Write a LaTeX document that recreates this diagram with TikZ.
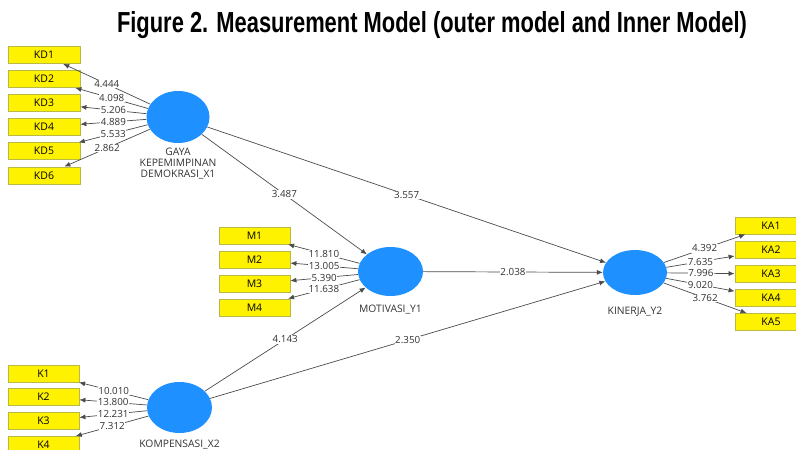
\documentclass[tikz,border=0pt]{standalone}
\usepackage{fontspec}
\setmainfont{Open Sans}
\newfontfamily\titlefont{Liberation Sans}
\usetikzlibrary{arrows.meta,shapes.geometric}
\definecolor{latblue}{RGB}{30,144,255}
\definecolor{boxedge}{RGB}{185,185,70}
\definecolor{linegray}{RGB}{75,75,75}
\definecolor{txt}{RGB}{50,50,50}
\begin{document}
\begin{tikzpicture}[x=1pt,y=-1pt,
  lat/.style={ellipse, fill=latblue, minimum width=65pt, minimum height=49pt, inner sep=0pt},
  ind/.style={rectangle, draw=boxedge, line width=0.8pt, fill=yellow, minimum width=72pt, minimum height=17pt, inner sep=0pt, font=\fontsize{10.5}{11}\selectfont},
  latname/.style={font=\fontsize{10.3}{11}\selectfont, text=txt, align=center, inner sep=0pt},
  conn/.style={draw=linegray, line width=0.7pt, -{Latex[length=6pt,width=5pt]}},
  val/.style={fill=white, inner sep=0.6pt, text=txt, font=\fontsize{9.8}{10}\selectfont, midway}
]
\useasboundingbox (0,0) rectangle (796,450);
\clip (0,0) rectangle (796,450);

\node[anchor=base, inner sep=0pt] (title) at (432,32) {\resizebox{630pt}{21pt}{\titlefont\bfseries Figure 2. Measurement Model (outer model and Inner Model)}};

% latent variables
\node[lat, minimum width=63pt, minimum height=52pt] (X1) at (178,117) {};
\node[lat] (Y1) at (390.5,271.5) {};
\node[lat, minimum width=64pt, minimum height=45pt] (Y2) at (635,272.5) {};
\node[lat, minimum height=51pt] (X2) at (179.5,407.5) {};

\node[latname, anchor=north] (nX1) at (178,148) {GAYA\\KEPEMIMPINAN\\DEMOKRASI\_X1};
\node[latname, anchor=north] (nY1) at (390.5,305) {MOTIVASI\_Y1};
\node[latname, anchor=north] (nY2) at (635,307) {KINERJA\_Y2};
\node[latname, anchor=north] (nX2) at (179.5,439.5) {KOMPENSASI\_X2};

% indicators
\node[ind] (KD1) at (44,55) {KD1};
\node[ind] (KD2) at (44,79) {KD2};
\node[ind] (KD3) at (44,103) {KD3};
\node[ind] (KD4) at (44,127) {KD4};
\node[ind] (KD5) at (44,151.3) {KD5};
\node[ind] (KD6) at (44,175.5) {KD6};

\node[ind, minimum width=71pt] (M1) at (254.5,235.5) {M1};
\node[ind, minimum width=71pt] (M2) at (254.5,260) {M2};
\node[ind, minimum width=71pt] (M3) at (254.5,284) {M3};
\node[ind, minimum width=71pt] (M4) at (254.5,307.5) {M4};

\node[ind] (KA1) at (771,225.5) {KA1};
\node[ind] (KA2) at (771,250) {KA2};
\node[ind] (KA3) at (771,274) {KA3};
\node[ind] (KA4) at (771,298) {KA4};
\node[ind] (KA5) at (771,322) {KA5};

\node[ind, minimum width=71pt] (K1) at (43.5,373.5) {K1};
\node[ind, minimum width=71pt] (K2) at (43.5,397) {K2};
\node[ind, minimum width=71pt] (K3) at (43.5,421) {K3};
\node[ind, minimum width=71pt] (K4) at (43.5,445) {K4};

% outer model
\draw[conn] (X1) -- node[val]{4.444} (KD1);
\draw[conn] (X1) -- node[val]{4.098} (KD2);
\draw[conn] (X1) -- node[val]{5.206} (KD3);
\draw[conn] (X1) -- node[val]{4.889} (KD4);
\draw[conn] (X1) -- node[val]{5.533} (KD5);
\draw[conn] (X1) -- node[val]{2.862} (KD6);

\draw[conn] (Y1) -- node[val]{11.810} (M1);
\draw[conn] (Y1) -- node[val]{13.005} (M2);
\draw[conn] (Y1) -- node[val]{5.390} (M3);
\draw[conn] (Y1) -- node[val]{11.638} (M4);

\draw[conn] (Y2) -- node[val]{4.392} (KA1);
\draw[conn] (Y2) -- node[val]{7.635} (KA2);
\draw[conn] (Y2) -- node[val]{7.996} (KA3);
\draw[conn] (Y2) -- node[val]{9.020} (KA4);
\draw[conn] (Y2) -- node[val]{3.762} (KA5);

\draw[conn] (X2) -- node[val]{10.010} (K1);
\draw[conn] (X2) -- node[val]{13.800} (K2);
\draw[conn] (X2) -- node[val]{12.231} (K3);
\draw[conn] (X2) -- node[val]{7.312} (K4);

% inner model
\draw[conn] (X1) -- node[val]{3.487} (Y1);
\draw[conn] (X1) -- node[val]{3.557} (Y2);
\draw[conn] (Y1) -- node[val]{2.038} (Y2);
\draw[conn] (X2) -- node[val]{4.143} (Y1);
\draw[conn] (X2) -- node[val]{2.350} (Y2);
\end{tikzpicture}
\end{document}
